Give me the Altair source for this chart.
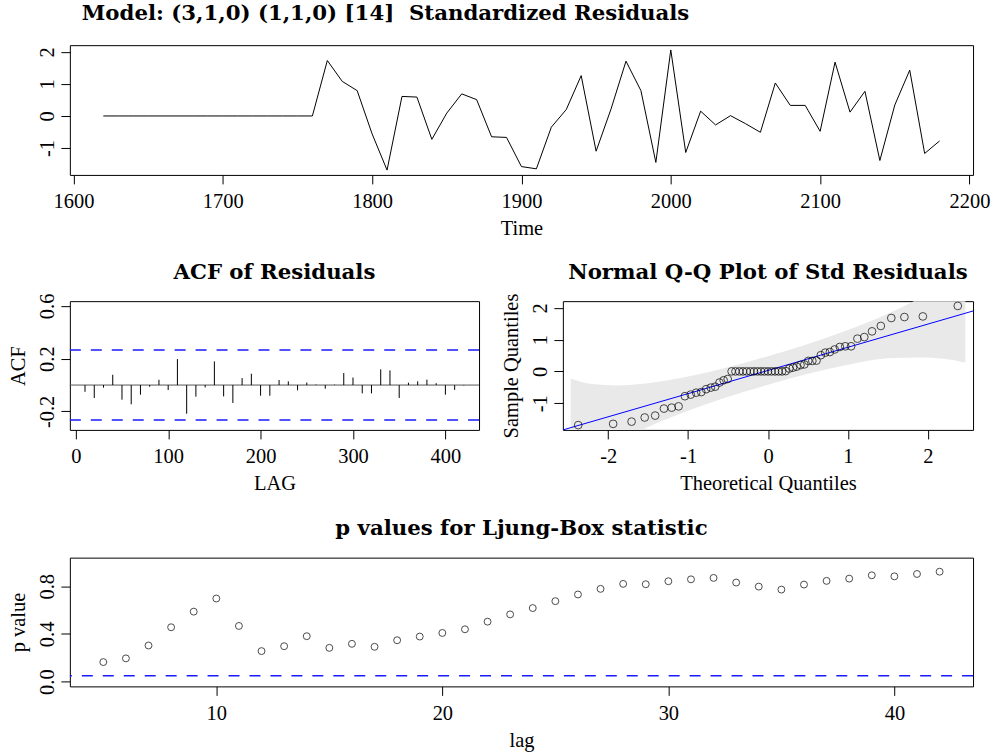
import altair as alt
import pandas as pd

# ---------------- data ----------------
res_time = list(range(1620, 2190, 10))
res_values = [0, 0, 0, 0, 0, 0, 0, 0, 0, 0, 0, 0, 0, 0, 0,
              1.73, 1.08, 0.79, -0.56, -1.69, 0.61, 0.59, -0.73, 0.09, 0.69,
              0.51, -0.65, -0.67, -1.58, -1.65, -0.35, 0.20, 1.26, -1.10, 0.22,
              1.71, 0.79, -1.45, 2.06, -1.14, 0.15, -0.28, 0.01, -0.24, -0.51,
              1.03, 0.33, 0.33, -0.48, 1.68, 0.12, 0.77, -1.39, 0.34, 1.43,
              -1.17, -0.78]

acf_lag = list(range(10, 430, 10))
acf_values = [-0.051, -0.098, -0.020, 0.078, -0.111, -0.146, -0.073, -0.013, 0.040, -0.038,
              0.197, -0.217, -0.088, -0.018, 0.179, -0.086, -0.136, 0.053, 0.086, -0.081,
              -0.081, 0.038, 0.028, -0.040, 0.019, 0.004, -0.028, 0.003, 0.091, 0.057,
              -0.063, -0.063, 0.119, 0.111, -0.098, 0.018, 0.028, 0.041, 0.014, -0.073,
              -0.037, -0.003]
acf_bounds = [-0.265, 0.265]

qq_theoretical = [-2.375, -1.938, -1.707, -1.543, -1.412, -1.302, -1.205, -1.119, -1.040, -0.967,
                  -0.899, -0.835, -0.774, -0.716, -0.661, -0.607, -0.555, -0.504, -0.455, -0.407,
                  -0.359, -0.313, -0.267, -0.221, -0.176, -0.132, -0.088, -0.044, 0.0,
                  0.044, 0.088, 0.132, 0.176, 0.221, 0.267, 0.313, 0.359, 0.407, 0.455,
                  0.504, 0.555, 0.607, 0.661, 0.716, 0.774, 0.835, 0.899, 0.967, 1.040,
                  1.119, 1.205, 1.302, 1.412, 1.543, 1.707, 1.938, 2.375]
qq_line_intercept = 0.03
qq_line_slope = 0.729
qq_line_x = [-2.567, 2.566]
band_z = [-2.47, -2.2, -1.9, -1.5, -1.0, -0.5, 0.0, 0.5, 1.0, 1.5, 1.9, 2.2, 2.47]
band_upper = [-0.22, -0.40, -0.44, -0.37, -0.16, 0.13, 0.48, 0.86, 1.30, 1.81, 2.32, 2.81, 3.38]
band_lower = [-3.32, -2.75, -2.26, -1.75, -1.24, -0.80, -0.42, -0.07, 0.21, 0.41, 0.44, 0.40, 0.28]

lb_lag = list(range(5, 43))
lb_pvalues = [0.164, 0.195, 0.303, 0.456, 0.587, 0.697, 0.467, 0.256, 0.297, 0.381,
              0.283, 0.317, 0.292, 0.347, 0.378, 0.408, 0.439, 0.503, 0.564, 0.617,
              0.675, 0.731, 0.778, 0.820, 0.817, 0.842, 0.858, 0.870, 0.831, 0.797,
              0.772, 0.814, 0.845, 0.864, 0.892, 0.883, 0.903, 0.922]
lb_alpha = 0.05

# ---------------- styling ----------------
SERIF = "Liberation Serif"
BOLD = "DejaVu Serif"
LABEL_SIZE = 20.5
TITLE_SIZE = 21.3
BLUE = "#1a1aff"
DASH = [11, 10]

minus_fix = "replace(datum.label, '\u2212', '-')"


def title(text, offset=0, anchor="middle", dx=0):
    return alt.TitleParams(text, font=BOLD, fontSize=TITLE_SIZE, fontWeight="bold",
                           color="black", anchor=anchor, frame="group", dx=dx,
                           baseline="alphabetic", offset=offset)


def xaxis(values, title_text, fmt=None):
    kw = dict(values=values, title=title_text, labelExpr=minus_fix,
              labelBaseline="middle", labelPadding=18, titleY=54, titleBaseline="middle")
    if fmt:
        kw["format"] = fmt
    return alt.Axis(**kw)


def yaxis(values, title_text, label_expr=minus_fix, fmt=None):
    kw = dict(values=values, labelExpr=label_expr, labelAngle=270, labelAlign="center",
              labelBaseline="middle", labelPadding=13)
    if title_text:
        kw.update(title=title_text, titleX=-51, titleAngle=270, titleAlign="center",
                  titleBaseline="middle")
    else:
        kw["title"] = None
    if fmt:
        kw["format"] = fmt
    return alt.Axis(**kw)


# ---------------- top: standardized residuals ----------------
df_res = pd.DataFrame({"Time": res_time, "resid": res_values})
top = alt.Chart(df_res).mark_line(color="black", strokeWidth=1, clip=True).encode(
    x=alt.X("Time:Q", scale=alt.Scale(domain=[1597.6, 2202.4], nice=False, zero=False),
            axis=xaxis([1600, 1700, 1800, 1900, 2000, 2100, 2200], "Time", "d")),
    y=alt.Y("resid:Q", scale=alt.Scale(domain=[-1.84, 2.21], nice=False, zero=False),
            axis=yaxis([-1, 0, 1, 2], None, fmt="d")),
).properties(
    width=905, height=130,
    title=title("Model: (3,1,0) (1,1,0) [14]\u00a0 Standardized Residuals",
                offset=4, anchor="start", dx=12),
)

# ---------------- ACF ----------------
df_acf = pd.DataFrame({"lag": acf_lag, "acf": acf_values})
acf_x = alt.X("lag:Q", scale=alt.Scale(domain=[-6.4, 436.4], nice=False, zero=False),
              axis=xaxis([0, 100, 200, 300, 400], "LAG"))
acf_y_expr = ("abs(datum.value - 0.4) < 1e-6 || abs(datum.value) < 1e-6 ? '' : "
              "replace(format(datum.value, '.1f'), '\u2212', '-')")
acf_yscale = alt.Scale(domain=[-0.34, 0.636], nice=False, zero=False)
acf_bars = alt.Chart(df_acf).mark_rule(color="black", strokeWidth=1).encode(
    x=acf_x,
    y=alt.Y("acf:Q", scale=acf_yscale,
            axis=yaxis([-0.2, 0.0, 0.2, 0.4, 0.6], "ACF", acf_y_expr)),
    y2=alt.datum(0),
)
acf_zero = alt.Chart(pd.DataFrame({"v": [0]})).mark_rule(color="#555555", strokeWidth=1).encode(
    y=alt.Y("v:Q", scale=acf_yscale))
acf_ci = alt.Chart(pd.DataFrame({"v": acf_bounds})).mark_rule(
    color=BLUE, strokeWidth=1.5, strokeDash=DASH).encode(y=alt.Y("v:Q", scale=acf_yscale))
acf = alt.layer(acf_zero, acf_bars, acf_ci).properties(
    width=410, height=129, title=title("ACF of Residuals", offset=-7))

# ---------------- Normal QQ ----------------
df_qq = pd.DataFrame({"theo": qq_theoretical, "sample": sorted(res_values)})
df_band = pd.DataFrame({"z": band_z, "lo": band_lower, "hi": band_upper})
df_line = pd.DataFrame({"x": qq_line_x})
qq_xscale = alt.Scale(domain=[-2.567, 2.566], nice=False, zero=False)
qq_yscale = alt.Scale(domain=[-1.84, 2.21], nice=False, zero=False)
qq_band = alt.Chart(df_band).mark_area(color="#e9e9e9", opacity=1, clip=True,
                                       interpolate="monotone").encode(
    x=alt.X("z:Q", scale=qq_xscale, axis=xaxis([-2, -1, 0, 1, 2], "Theoretical Quantiles", "d")),
    y=alt.Y("lo:Q", scale=qq_yscale, axis=yaxis([-1, 0, 1, 2], "Sample Quantiles", fmt="d")),
    y2="hi:Q",
)
qq_line = alt.Chart(df_line).transform_calculate(
    y=f"{qq_line_intercept} + {qq_line_slope} * datum.x"
).mark_line(color="#0000ff", strokeWidth=1, clip=True).encode(
    x=alt.X("x:Q", scale=qq_xscale), y=alt.Y("y:Q", scale=qq_yscale))
qq_pts = alt.Chart(df_qq).mark_point(shape="circle", filled=False, color="black",
                                     size=60, strokeWidth=1).encode(
    x=alt.X("theo:Q", scale=qq_xscale), y=alt.Y("sample:Q", scale=qq_yscale))
qq = alt.layer(qq_band, qq_line, qq_pts).properties(
    width=411, height=129, title=title("Normal Q-Q Plot of Std Residuals", offset=-7))

# ---------------- Ljung-Box ----------------
df_lb = pd.DataFrame({"lag": lb_lag, "p": lb_pvalues})
lb_yscale = alt.Scale(domain=[-0.04, 1.04], nice=False, zero=False)
lb_y_expr = ("indexof(['0.0','0.4','0.8'], format(datum.value, '.1f')) >= 0 ? "
             "format(datum.value, '.1f') : ''")
lb_pts = alt.Chart(df_lb).mark_point(shape="circle", filled=False, color="black",
                                     size=48, strokeWidth=1).encode(
    x=alt.X("lag:Q", scale=alt.Scale(domain=[3.52, 43.48], nice=False, zero=False),
            axis=xaxis([10, 20, 30, 40], "lag")),
    y=alt.Y("p:Q", scale=lb_yscale,
            axis=yaxis([0, 0.2, 0.4, 0.6, 0.8, 1.0], "p value", lb_y_expr)),
)
lb_rule = alt.Chart(pd.DataFrame({"v": [lb_alpha]})).mark_rule(
    color=BLUE, strokeWidth=1.5, strokeDash=DASH).encode(y=alt.Y("v:Q", scale=lb_yscale))
lb = alt.layer(lb_rule, lb_pts).properties(
    width=905, height=129, title=title("p values for Ljung-Box statistic", offset=1))

# invisible spacer (keeps the third row clear of the second)
spacer = alt.Chart(pd.DataFrame({"a": [0]})).mark_point(opacity=0).encode(
    x=alt.X("a:Q", axis=None), y=alt.Y("a:Q", axis=None)
).properties(width=1, height=3.5, view=alt.ViewBackground(stroke="transparent"))

row2 = alt.hconcat(acf, qq, spacing=84, bounds="flush")
chart = alt.vconcat(top, row2, spacer, lb, spacing=126.5, bounds="flush").properties(
    padding={"left": 8, "top": 1.5, "right": 5, "bottom": 5},
    background="white",
).configure_view(
    stroke="black", strokeWidth=1,
).configure_axis(
    domain=False, grid=False, ticks=True, tickColor="black", tickSize=9, tickWidth=1,
    labelFont=SERIF, labelFontSize=LABEL_SIZE, labelColor="black", labelFlush=False,
    labelOverlap=False,
    titleFont=SERIF, titleFontSize=LABEL_SIZE, titleFontWeight="normal", titleColor="black",
)

chart.save("out.html", embed_options={"renderer": "svg", "actions": False})
